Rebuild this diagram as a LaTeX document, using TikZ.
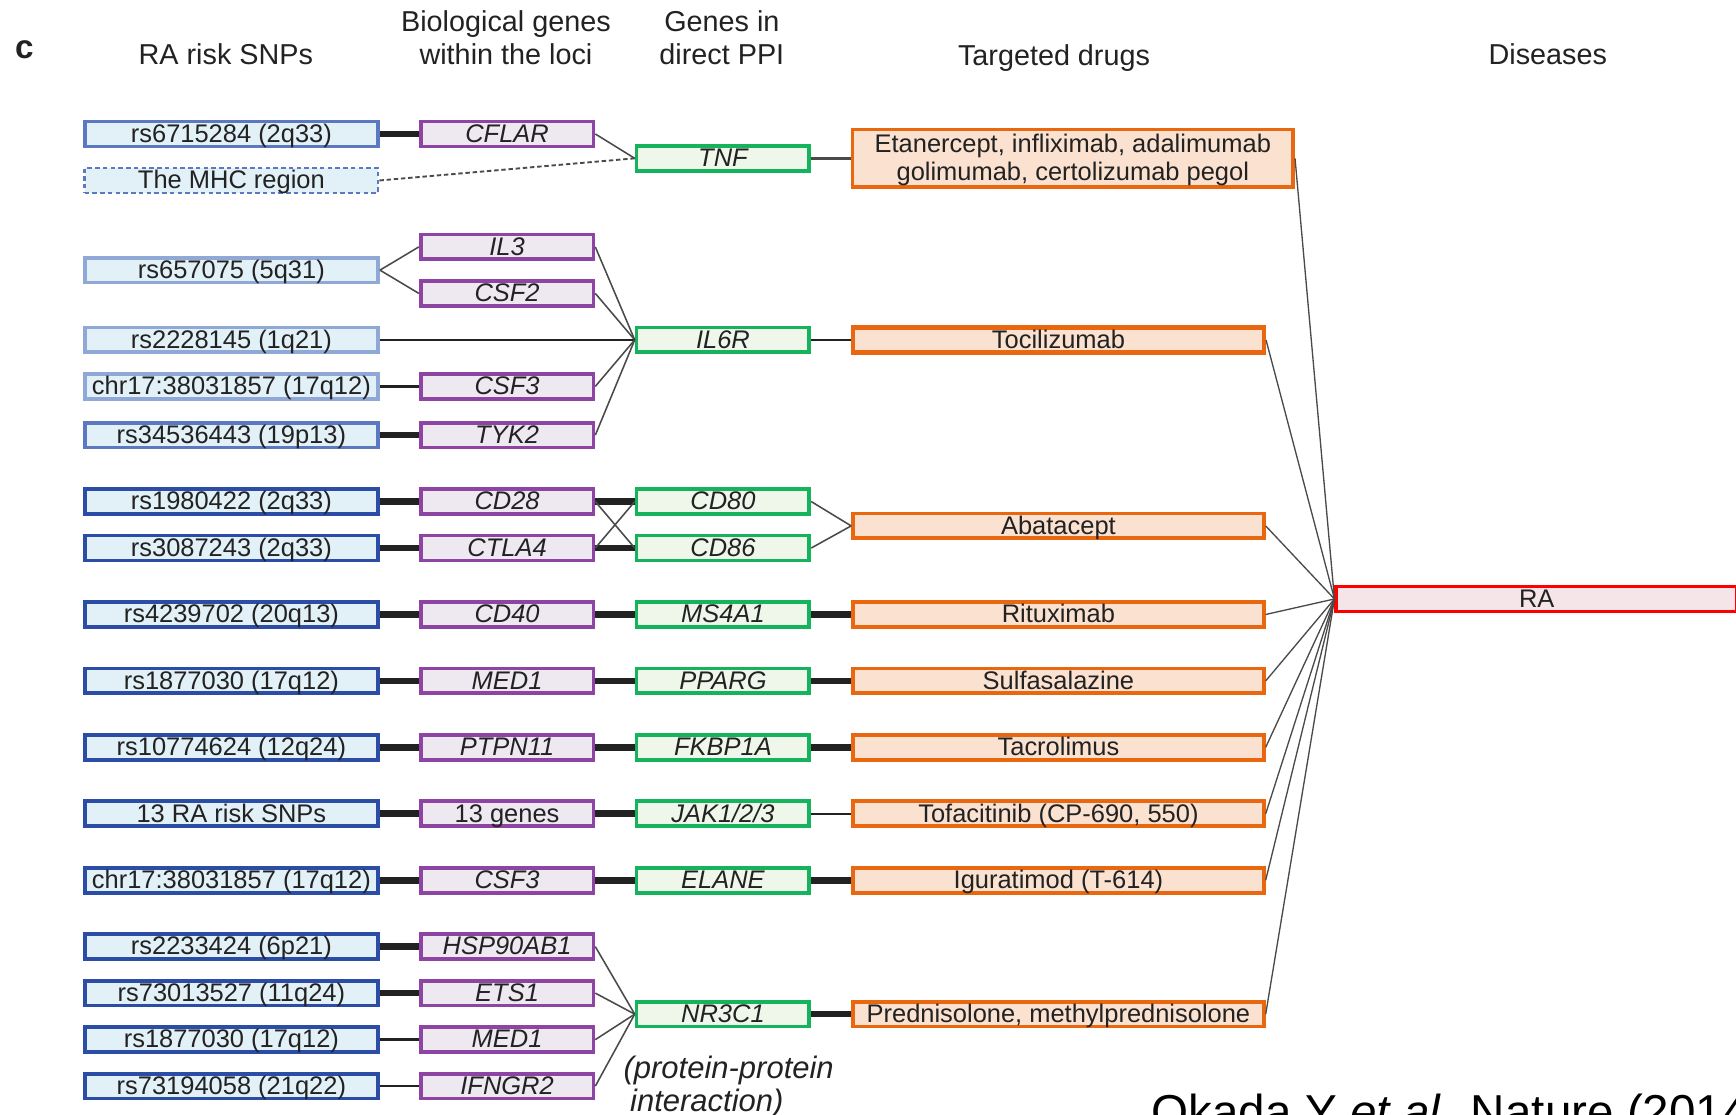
\documentclass[tikz,border=0pt]{standalone}
\usepackage{fontspec}
\setmainfont{Liberation Sans}
\definecolor{txt}{HTML}{222222}
\definecolor{snpfill}{HTML}{E2F1F8}
\definecolor{snpdark}{HTML}{2B4DA6}
\definecolor{snpmid}{HTML}{5B78C0}
\definecolor{snplight}{HTML}{8FA8D6}
\definecolor{genefill}{HTML}{EEE9F1}
\definecolor{genedraw}{HTML}{8D44A2}
\definecolor{ppifill}{HTML}{EFF6EA}
\definecolor{ppidraw}{HTML}{15B35C}
\definecolor{drugfill}{HTML}{FBE1CF}
\definecolor{drugdraw}{HTML}{E9680F}
\definecolor{rafill}{HTML}{F5E4E8}
\definecolor{linkblack}{HTML}{222222}
\definecolor{fangray}{HTML}{4A4A4A}
\begin{document}
\begin{tikzpicture}[x=1pt,y=-1pt,
  every node/.style={inner sep=0pt, text=txt},
  nbox/.style={draw, line width=3.4pt, minimum height=22.5pt, font=\fontsize{23}{25}\selectfont},
  tx/.style={text height=16pt, text depth=1pt},
  snp/.style={nbox, tx, fill=snpfill, draw=snpdark, minimum width=265pt},
  snpl/.style={snp, draw=snplight},
  snpm/.style={snp, draw=snpmid},
  gene/.style={nbox, tx, fill=genefill, draw=genedraw, minimum width=156pt, font=\fontsize{23}{25}\selectfont\itshape},
  ppi/.style={nbox, tx, fill=ppifill, draw=ppidraw, minimum width=156pt, font=\fontsize{23}{25}\selectfont\itshape},
  drug/.style={nbox, tx, fill=drugfill, draw=drugdraw, minimum width=371pt},
  rabox/.style={nbox, tx, fill=rafill, draw=red, minimum width=362pt},
  thicklink/.style={line width=6pt, draw=linkblack},
  thinlink/.style={line width=2.2pt, draw=linkblack},
  fan/.style={line width=1.4pt, draw=fangray},
  hdr/.style={font=\fontsize{26}{30}\selectfont, align=center, text=txt}
]
\useasboundingbox (0,0) rectangle (1568,1007);
\clip (0,0) rectangle (1568,1007);
\fill[white] (0,0) rectangle (1568,1007);

% headers
\node[font=\fontsize{30}{32}\selectfont\bfseries] (lab) at (22,45) {c};
\node[hdr] (h1) at (204,49) {RA risk SNPs};
\node[hdr] (h2) at (457,34) {Biological genes\\within the loci};
\node[hdr] (h3) at (652,34) {Genes in\\direct PPI};
\node[hdr] (h4) at (952,52) {Targeted drugs};
\node[hdr] (h5) at (1398,49) {Diseases};

% SNP column
\node[snpm] (s1) at (209,121) {rs6715284 (2q33)};
\node[snpm, dashed, dash pattern=on 4pt off 3pt, line width=2.4pt] (mhc) at (209,163) {The MHC region};
\node[snpl] (s3) at (209,244) {rs657075 (5q31)};
\node[snpl] (s4) at (209,307) {rs2228145 (1q21)};
\node[snpl] (s5) at (209,349) {chr17:38031857 (17q12)};
\node[snpm] (s6) at (209,393) {rs34536443 (19p13)};
\node[snp] (s7) at (209,453) {rs1980422 (2q33)};
\node[snp] (s8) at (209,495) {rs3087243 (2q33)};
\node[snp] (s9) at (209,555) {rs4239702 (20q13)};
\node[snp] (s10) at (209,615) {rs1877030 (17q12)};
\node[snp] (s11) at (209,675) {rs10774624 (12q24)};
\node[snp] (s12) at (209,735) {13 RA risk SNPs};
\node[snp] (s13) at (209,795) {chr17:38031857 (17q12)};
\node[snp] (s14) at (209,855) {rs2233424 (6p21)};
\node[snp] (s15) at (209,897) {rs73013527 (11q24)};
\node[snp] (s16) at (209,939) {rs1877030 (17q12)};
\node[snp] (s17) at (209,981) {rs73194058 (21q22)};

% gene column
\node[gene] (cflar) at (458,121) {CFLAR};
\node[gene] (il3) at (458,223) {IL3};
\node[gene] (csf2) at (458,265) {CSF2};
\node[gene] (csf3a) at (458,349) {CSF3};
\node[gene] (tyk2) at (458,393) {TYK2};
\node[gene] (cd28) at (458,453) {CD28};
\node[gene] (ctla4) at (458,495) {CTLA4};
\node[gene] (cd40) at (458,555) {CD40};
\node[gene] (med1a) at (458,615) {MED1};
\node[gene] (ptpn11) at (458,675) {PTPN11};
\node[gene, font=\fontsize{23}{25}\selectfont] (g13) at (458,735) {13 genes};
\node[gene] (csf3b) at (458,795) {CSF3};
\node[gene] (hsp) at (458,855) {HSP90AB1};
\node[gene] (ets1) at (458,897) {ETS1};
\node[gene] (med1b) at (458,939) {MED1};
\node[gene] (ifngr2) at (458,981) {IFNGR2};

% PPI column
\node[ppi] (tnf) at (653,143) {TNF};
\node[ppi] (il6r) at (653,307) {IL6R};
\node[ppi] (cd80) at (653,453) {CD80};
\node[ppi] (cd86) at (653,495) {CD86};
\node[ppi] (ms4a1) at (653,555) {MS4A1};
\node[ppi] (pparg) at (653,615) {PPARG};
\node[ppi] (fkbp) at (653,675) {FKBP1A};
\node[ppi] (jak) at (653,735) {JAK1/2/3};
\node[ppi] (elane) at (653,795) {ELANE};
\node[ppi] (nr3c1) at (653,916) {NR3C1};

% drugs
\node[nbox, fill=drugfill, draw=drugdraw, minimum width=398pt, minimum height=52pt, align=center] (etan) at (969,143) {\rule{0pt}{20pt}Etanercept, infliximab, adalimumab\\golimumab, certolizumab pegol};
\node[drug, line width=4pt] (toci) at (956,307) {Tocilizumab};
\node[drug] (abat) at (956,475) {Abatacept};
\node[drug] (ritu) at (956,555) {Rituximab};
\node[drug] (sulfa) at (956,615) {Sulfasalazine};
\node[drug] (tacro) at (956,675) {Tacrolimus};
\node[drug] (tofa) at (956,735) {Tofacitinib (CP-690, 550)};
\node[drug] (igu) at (956,795) {Iguratimod (T-614)};
\node[drug] (pred) at (956,916) {Prednisolone, methylprednisolone};

% disease
\node[rabox] (ra) at (1388,541) {RA};

% SNP -> gene
\draw[thicklink] (s1) -- (cflar);
\draw[fan] (s3.east) -- (il3.west);
\draw[fan] (s3.east) -- (csf2.west);
\draw[thinlink] (s5) -- (csf3a);
\draw[thicklink] (s6) -- (tyk2);
\draw[thicklink] (s7) -- (cd28);
\draw[thicklink] (s8) -- (ctla4);
\draw[thicklink] (s9) -- (cd40);
\draw[thicklink] (s10) -- (med1a);
\draw[thicklink] (s11) -- (ptpn11);
\draw[thicklink] (s12) -- (g13);
\draw[thicklink] (s13) -- (csf3b);
\draw[thicklink] (s14) -- (hsp);
\draw[thicklink] (s15) -- (ets1);
\draw[thinlink] (s16) -- (med1b);
\draw[thinlink] (s17) -- (ifngr2);

% gene -> PPI
\draw[fan] (cflar.east) -- (tnf.west);
\draw[fan, dashed, dash pattern=on 4pt off 2.5pt, line width=1.7pt] (mhc.east) -- (tnf.west);
\draw[fan] (il3.east) -- (il6r.west);
\draw[fan] (csf2.east) -- (il6r.west);
\draw[thinlink] (s4) -- (il6r);
\draw[fan] (csf3a.east) -- (il6r.west);
\draw[fan] (tyk2.east) -- (il6r.west);
\draw[thicklink] (cd28) -- (cd80);
\draw[thicklink] (ctla4) -- (cd86);
\draw[fan] (cd28.east) -- (cd86.west);
\draw[fan] (ctla4.east) -- (cd80.west);
\draw[thicklink] (cd40) -- (ms4a1);
\draw[thicklink] (med1a) -- (pparg);
\draw[thicklink] (ptpn11) -- (fkbp);
\draw[thicklink] (g13) -- (jak);
\draw[thicklink] (csf3b) -- (elane);
\draw[fan] (hsp.east) -- (nr3c1.west);
\draw[fan] (ets1.east) -- (nr3c1.west);
\draw[fan] (med1b.east) -- (nr3c1.west);
\draw[fan] (ifngr2.east) -- (nr3c1.west);

% PPI -> drug
\draw[thinlink, draw=fangray] (tnf) -- (etan);
\draw[thinlink] (il6r) -- (toci);
\draw[fan] (cd80.east) -- (abat.west);
\draw[fan] (cd86.east) -- (abat.west);
\draw[thicklink] (ms4a1) -- (ritu);
\draw[thicklink] (pparg) -- (sulfa);
\draw[thicklink] (fkbp) -- (tacro);
\draw[thinlink] (jak) -- (tofa);
\draw[thicklink] (elane) -- (igu);
\draw[thicklink] (nr3c1) -- (pred);

% drug -> disease
\foreach \d in {etan,toci,abat,ritu,sulfa,tacro,tofa,igu,pred}
  \draw[fan, line width=1.2pt] (\d.east) -- (ra.west);

% notes
\node[font=\fontsize{28}{29}\selectfont\itshape, align=left, anchor=north west] (ppinote) at (563,954) {(protein-protein\\\hspace*{6pt}interaction)};
\node[font=\fontsize{43}{45}\selectfont, anchor=base west, text=black] (cite) at (1040,1019) {Okada Y \textit{et al.} Nature (2014)};
\end{tikzpicture}
\end{document}
